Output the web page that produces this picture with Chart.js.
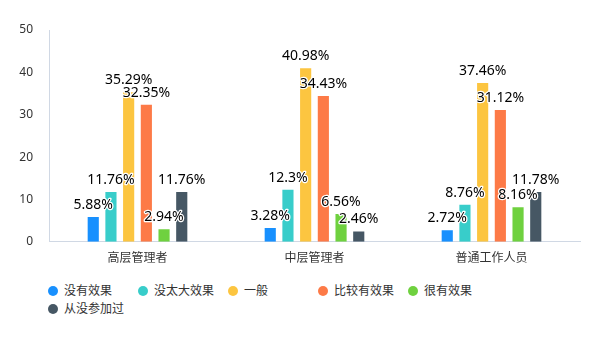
<!DOCTYPE html>
<html><head><meta charset="utf-8">
<script src="https://cdn.jsdelivr.net/npm/chart.js@4"></script>
<style>
html,body{margin:0;padding:0;background:#fff;}
#wrap{position:relative;width:600px;height:340px;}
#c{position:absolute;left:0;top:0;}
#legend{position:absolute;left:48px;top:281px;width:470px;font-family:"Noto Sans CJK SC","Noto Sans",sans-serif;font-size:12px;color:#333;}
.li{display:inline-block;width:90px;height:18px;line-height:18px;white-space:nowrap;}
.dot{display:inline-block;width:10px;height:10px;border-radius:50%;vertical-align:-1px;margin-right:6px;}
</style></head>
<body><div id="wrap"><canvas id="c" width="600" height="265"></canvas><div id="legend"></div></div>
<script>
const categories = ["高层管理者", "中层管理者", "普通工作人员"];
const seriesNames = ["没有效果", "没太大效果", "一般", "比较有效果", "很有效果", "从没参加过"];
const s1 = [5.88, 3.28, 2.72];
const s2 = [11.76, 12.3, 8.76];
const s3 = [35.29, 40.98, 37.46];
const s4 = [32.35, 34.43, 31.12];
const s5 = [2.94, 6.56, 8.16];
const s6 = [11.76, 2.46, 11.78];
const yTicks = [0, 10, 20, 30, 40, 50];
const colors = ["#1890fe", "#38cdca", "#fcc540", "#fd7a47", "#6fd13f", "#465764"];

const values = [s1, s2, s3, s4, s5, s6];
const datasets = seriesNames.map((n, i) => ({
  label: n, data: values[i], backgroundColor: colors[i],
  categoryPercentage: 0.6, barPercentage: 0.63
}));

const labelPlugin = {
  id: 'vlabels',
  afterDatasetsDraw(chart) {
    const ctx = chart.ctx;
    ctx.save();
    ctx.font = '14px "Noto Sans", "DejaVu Sans", sans-serif';
    ctx.textAlign = 'center';
    ctx.textBaseline = 'bottom';
    ctx.lineJoin = 'round';
    chart.data.datasets.forEach((ds, di) => {
      chart.getDatasetMeta(di).data.forEach((bar, i) => {
        const t = ds.data[i] + '%';
        ctx.lineWidth = 2.5;
        ctx.strokeStyle = '#fff';
        ctx.strokeText(t, bar.x, bar.y - 5);
        ctx.fillStyle = '#000';
        ctx.fillText(t, bar.x, bar.y - 5);
      });
    });
    ctx.restore();
  }
};

new Chart(document.getElementById('c'), {
  type: 'bar',
  data: { labels: categories, datasets },
  options: {
    responsive: false, animation: false,
    layout: { padding: { left: 0, right: 20, top: 30, bottom: 0 } },
    plugins: { legend: { display: false }, tooltip: { enabled: false } },
    scales: {
      x: {
        grid: { display: false, drawTicks: false },
        border: { display: true, color: '#d0d8e4' },
        ticks: { padding: 8, color: '#333', font: { size: 12, family: '"Noto Sans CJK SC", sans-serif' } },
        afterFit(s) { s.height = 21; }
      },
      y: {
        min: 0, max: 50,
        afterBuildTicks(s) { s.ticks = yTicks.map(v => ({ value: v })); },
        grid: { display: false, drawTicks: false },
        border: { display: true, color: '#d0d8e4' },
        ticks: { padding: 16, color: '#333', font: { size: 12, family: '"Noto Sans", sans-serif' } },
        afterFit(s) { s.width = 49; }
      }
    }
  },
  plugins: [labelPlugin]
});

const lg = document.getElementById('legend');
seriesNames.forEach((n, i) => {
  const d = document.createElement('span');
  d.className = 'li';
  d.innerHTML = '<span class="dot" style="background:' + colors[i] + '"></span>' + n;
  lg.appendChild(d);
});
</script></body></html>
